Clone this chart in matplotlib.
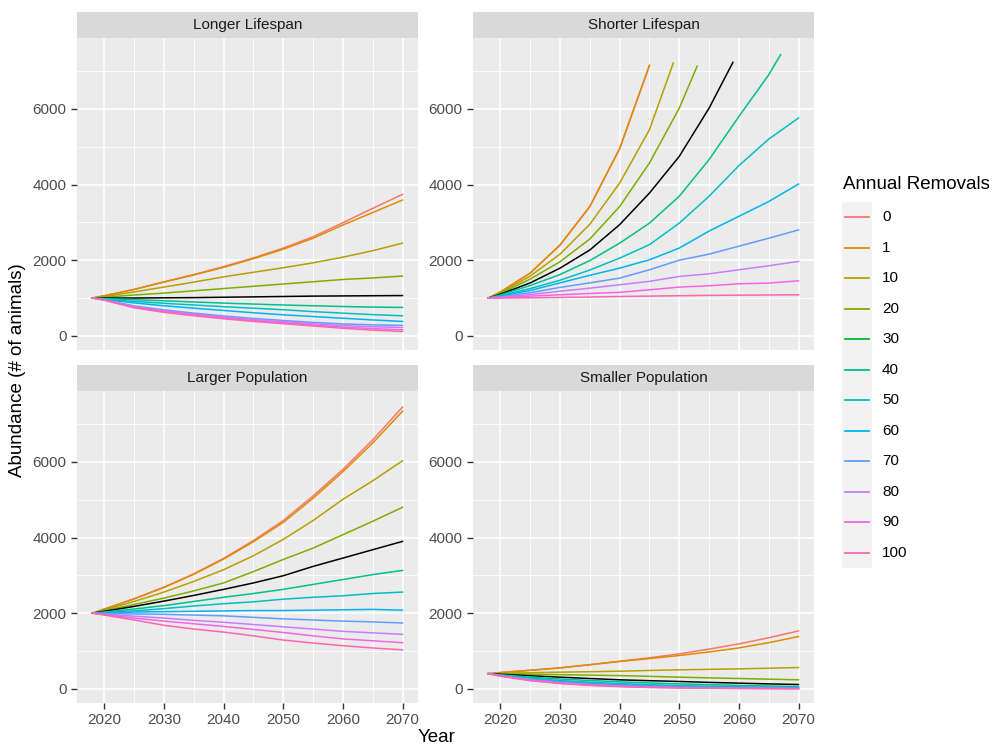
import matplotlib.pyplot as plt
import numpy as np

plt.rcParams['font.family'] = ['Liberation Sans', 'DejaVu Sans']

nan = np.nan

# years (every 5 years + start)
years = [2018, 2020, 2025, 2030, 2035, 2040, 2045, 2050, 2055, 2060, 2065, 2070]

removals = ["0", "1", "10", "20", "30", "40", "50", "60", "70", "80", "90", "100"]
# ggplot hue palette for 12 levels
legend_colors = ["#F8766D", "#DE8C00", "#B79F00", "#7CAE00", "#00BA38", "#00C08B",
                 "#00BFC4", "#00B4F0", "#619CFF", "#C77CFF", "#F564E3", "#FF64B0"]
# the 30 removals line is drawn in black on the panels
line_colors = list(legend_colors)
line_colors[4] = "black"

panel_titles = ["Longer Lifespan", "Shorter Lifespan", "Larger Population", "Smaller Population"]

longer_lifespan = [
    [1000, 1060, 1230, 1430, 1620, 1830, 2060, 2320, 2620, 2990, 3370, 3740],
    [1000, 1060, 1225, 1420, 1610, 1810, 2040, 2290, 2580, 2930, 3260, 3590],
    [1000, 1040, 1160, 1290, 1420, 1560, 1680, 1800, 1930, 2080, 2250, 2450],
    [1000, 1020, 1080, 1130, 1190, 1250, 1310, 1370, 1430, 1490, 1530, 1580],
    [1000, 1000, 1000, 1005, 1010, 1020, 1030, 1040, 1050, 1055, 1060, 1065],
    [1000, 985, 955, 925, 895, 865, 840, 815, 795, 775, 760, 750],
    [1000, 970, 910, 860, 815, 770, 730, 690, 640, 600, 560, 530],
    [1000, 960, 870, 795, 730, 670, 610, 555, 510, 465, 420, 380],
    [1000, 955, 790, 685, 600, 525, 460, 405, 355, 315, 290, 275],
    [1000, 950, 770, 660, 575, 495, 430, 375, 320, 270, 240, 220],
    [1000, 945, 755, 640, 550, 470, 405, 345, 285, 230, 190, 160],
    [1000, 940, 740, 620, 530, 450, 380, 320, 260, 200, 150, 115],
]

shorter_lifespan = [
    [1000, 1160, 1660, 2400, 3420, 4950, 7150, nan, nan, nan, nan, nan],
    [1000, 1160, 1660, 2400, 3420, 4950, 7150, nan, nan, nan, nan, nan],
    [1000, 1140, 1580, 2160, 2950, 4040, 5450, nan, nan, nan, nan, nan],
    [1000, 1120, 1500, 1960, 2560, 3420, 4570, 6020, nan, nan, nan, nan],
    [1000, 1100, 1400, 1790, 2270, 2940, 3775, 4745, 6020, nan, nan, nan],
    [1000, 1080, 1330, 1620, 1990, 2450, 2980, 3690, 4660, 5800, 6900, nan],
    [1000, 1060, 1250, 1470, 1740, 2055, 2410, 2980, 3690, 4500, 5200, 5760],
    [1000, 1050, 1200, 1400, 1600, 1790, 2010, 2320, 2770, 3160, 3550, 4013],
    [1000, 1030, 1140, 1280, 1400, 1526, 1746, 2000, 2160, 2370, 2580, 2800],
    [1000, 1020, 1090, 1180, 1260, 1350, 1440, 1570, 1640, 1746, 1852, 1967],
    [1000, 1010, 1050, 1085, 1120, 1150, 1217, 1288, 1323, 1376, 1394, 1455],
    [1000, 1000, 1005, 1015, 1025, 1040, 1050, 1060, 1070, 1075, 1080, 1085],
]
# last point of the shorter-lifespan runs that stop before 2070
short_end_year = [None, None, 2049, 2053, 2059, 2067, None, None, None, None, None, None]
short_end_value = [None, None, 7215, 7130, 7232, 7435, None, None, None, None, None, None]

larger_population = [
    [2000, 2110, 2380, 2690, 3040, 3450, 3920, 4450, 5100, 5800, 6580, 7450],
    [2000, 2110, 2380, 2680, 3030, 3430, 3890, 4400, 5040, 5740, 6500, 7340],
    [2000, 2090, 2310, 2560, 2840, 3150, 3520, 3950, 4450, 5010, 5500, 6030],
    [2000, 2070, 2230, 2400, 2590, 2800, 3100, 3420, 3720, 4075, 4430, 4800],
    [2000, 2050, 2180, 2320, 2470, 2630, 2800, 2990, 3237, 3457, 3678, 3898],
    [2000, 2030, 2110, 2200, 2310, 2420, 2520, 2630, 2760, 2890, 3020, 3131],
    [2000, 2020, 2060, 2120, 2190, 2250, 2300, 2370, 2420, 2460, 2520, 2558],
    [2000, 2010, 2030, 2040, 2050, 2060, 2070, 2070, 2080, 2090, 2100, 2080],
    [2000, 1990, 1980, 1970, 1950, 1930, 1890, 1850, 1820, 1790, 1770, 1740],
    [2000, 1975, 1920, 1870, 1810, 1760, 1700, 1640, 1580, 1520, 1480, 1440],
    [2000, 1965, 1870, 1790, 1720, 1650, 1570, 1490, 1400, 1320, 1270, 1220],
    [2000, 1950, 1820, 1680, 1580, 1500, 1400, 1290, 1210, 1140, 1080, 1030],
]

smaller_population = [
    [400, 430, 490, 554, 640, 730, 820, 924, 1050, 1188, 1350, 1531],
    [400, 430, 490, 554, 636, 722, 800, 880, 975, 1082, 1220, 1382],
    [400, 410, 425, 440, 452, 466, 485, 502, 515, 528, 545, 563],
    [400, 395, 385, 375, 362, 350, 330, 308, 290, 273, 255, 238],
    [400, 385, 345, 308, 272, 238, 215, 194, 170, 150, 130, 114],
    [400, 370, 310, 260, 220, 185, 155, 130, 110, 90, 75, 60],
    [400, 360, 280, 220, 175, 140, 110, 85, 70, 55, 45, 35],
    [400, 355, 260, 195, 145, 110, 80, 60, 45, 35, 25, 20],
    [400, 350, 245, 175, 125, 90, 65, 45, 35, 25, 18, 12],
    [400, 345, 235, 160, 110, 75, 50, 35, 25, 18, 12, 8],
    [400, 340, 225, 150, 100, 65, 42, 28, 18, 12, 8, 5],
    [400, 335, 215, 140, 90, 58, 36, 22, 14, 9, 5, 3],
]

x_ticks = [2020, 2030, 2040, 2050, 2060, 2070]
y_ticks = [0, 2000, 4000, 6000]

W, H = 997, 749
fig = plt.figure(figsize=(W / 100, H / 100), dpi=100)


def px_rect(x0, y0, x1, y1):
    return [x0 / W, 1 - y1 / H, (x1 - x0) / W, (y1 - y0) / H]


panel_boxes = [(77, 38, 418, 350), (473, 38, 814, 350),
               (77, 391, 418, 703), (473, 391, 814, 703)]
strip_h = 26
panel_data = [longer_lifespan, shorter_lifespan, larger_population, smaller_population]

for i, (box, title, data) in enumerate(zip(panel_boxes, panel_titles, panel_data)):
    ax = fig.add_axes(px_rect(*box))
    ax.set_facecolor("#EBEBEB")
    for s in ax.spines.values():
        s.set_visible(False)
    ax.set_xlim(2015.4, 2072.6)
    ax.set_ylim(-375, 7875)
    for xm in [2025, 2035, 2045, 2055, 2065]:
        ax.axvline(xm, color="white", lw=0.6, zorder=0)
    for ym in [1000, 3000, 5000, 7000]:
        ax.axhline(ym, color="white", lw=0.6, zorder=0)
    for xm in x_ticks:
        ax.axvline(xm, color="white", lw=1.2, zorder=0)
    for ym in y_ticks:
        ax.axhline(ym, color="white", lw=1.2, zorder=0)

    for k, row in enumerate(data):
        xs = [y for y, v in zip(years, row) if not np.isnan(v)]
        ys = [v for v in row if not np.isnan(v)]
        if i == 1 and short_end_year[k] is not None:
            xs.append(short_end_year[k])
            ys.append(short_end_value[k])
        ax.plot(xs, ys, color=line_colors[k], lw=1.1, zorder=2 + k * 0.01)

    ax.set_yticks(y_ticks)
    ax.set_yticklabels([str(t) for t in y_ticks])
    ax.set_xticks(x_ticks)
    ax.tick_params(axis="both", colors="#333333", length=4.5, width=1.0,
                   labelsize=11, labelcolor="#4D4D4D", pad=3)
    if i < 2:
        ax.tick_params(axis="x", bottom=False, labelbottom=False)
    else:
        ax.set_xticklabels([str(t) for t in x_ticks])

    # facet strip
    sax = fig.add_axes(px_rect(box[0], box[1] - strip_h, box[2], box[1]))
    sax.set_facecolor("#D9D9D9")
    sax.set_xticks([])
    sax.set_yticks([])
    for s in sax.spines.values():
        s.set_visible(False)
    sax.text(0.5, 0.5, title, ha="center", va="center", fontsize=11, color="#1A1A1A",
             transform=sax.transAxes)

# axis titles
fig.text(18 / W, 1 - 370 / H, "Abundance (# of animals)", rotation=90,
         ha="center", va="center", fontsize=13.5, color="black")
fig.text(437 / W, 1 - 737 / H, "Year", ha="center", va="center", fontsize=13.5, color="black")

# legend
lax = fig.add_axes(px_rect(835, 160, 997, 580))
lax.set_xlim(835, 997)
lax.set_ylim(580, 160)
lax.axis("off")
lax.text(843, 185, "Annual Removals", ha="left", va="center", fontsize=13.5, color="black")
key_top, key_h = 202, 30.5
lax.add_patch(plt.Rectangle((842, key_top), 30, key_h * len(removals),
                            facecolor="#F2F2F2", edgecolor="none"))
for k, (lab, col) in enumerate(zip(removals, legend_colors)):
    yc = key_top + key_h * (k + 0.5)
    lax.plot([845, 869], [yc, yc], color=col, lw=1.3)
    lax.text(882, yc, lab, ha="left", va="center", fontsize=11, color="black")

fig.savefig("out.png", dpi=100)
